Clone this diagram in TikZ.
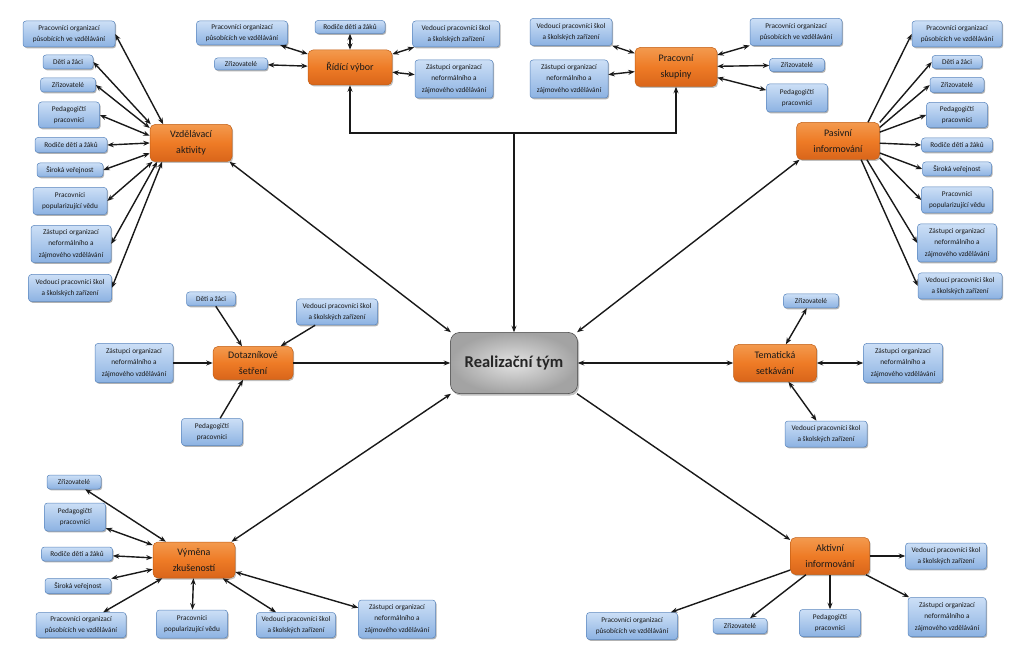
\documentclass[tikz,border=0pt]{standalone}
\usepackage{fontspec}
\setmainfont{Carlito}
\usetikzlibrary{arrows.meta,shadows,calc}
\definecolor{bTop}{HTML}{CCDFF6}
\definecolor{bBot}{HTML}{8CB2E2}
\definecolor{bEdge}{HTML}{5A86BE}
\definecolor{oTop}{HTML}{F39A4E}
\definecolor{oMid}{HTML}{EE7B26}
\definecolor{oBot}{HTML}{D9651A}
\definecolor{oEdge}{HTML}{C25E14}
\newcommand\tPO{Pracovníci organizací\\působících ve vzdělávání}
\newcommand\tDZ{Děti a žáci}
\newcommand\tZR{Zřizovatelé}
\newcommand\tPP{Pedagogičtí\\pracovníci}
\newcommand\tRD{Rodiče dětí a žáků}
\newcommand\tSV{Široká veřejnost}
\newcommand\tPV{Pracovníci\\popularizující vědu}
\newcommand\tZO{Zástupci organizací\\neformálního a\\zájmového vzdělávání}
\newcommand\tVP{Vedoucí pracovníci škol\\a školských zařízení}
\begin{document}
\begin{tikzpicture}[x=1pt,y=-1pt,
  sz/.style 2 args={minimum width=#1pt, minimum height=#2pt},
  bl/.style={draw=bEdge, line width=0.5pt, rounded corners=3pt, top color=bTop, bottom color=bBot,
    inner sep=0.5pt, align=center, font=\fontsize{7.3}{11.5}\selectfont, text=black!90,
    drop shadow={shadow xshift=1.1pt, shadow yshift=-1.3pt, opacity=0.6}},
  og/.style={draw=oEdge, line width=0.5pt, rounded corners=5pt, top color=oTop, bottom color=oBot, middle color=oMid,
    inner sep=1pt, align=center, font=\fontsize{10}{15.5}\selectfont, text=black!90,
    drop shadow={shadow xshift=1.2pt, shadow yshift=-1.5pt, opacity=0.5}},
  ct/.style={draw=gray!55!black, line width=0.5pt, rounded corners=9pt, inner color=gray!22, outer color=gray!72,
    align=center, font=\fontsize{16.5}{19}\selectfont\bfseries, text=black!85,
    drop shadow={shadow xshift=1.5pt, shadow yshift=-2pt, opacity=0.5}},
  ar/.style={line width=1.4pt, draw=black!90},
  bi/.style={ar, {Stealth[length=6.5pt,width=5pt]}-{Stealth[length=6.5pt,width=5pt]}},
  fw/.style={ar, -{Stealth[length=6.5pt,width=5pt]}}
]
\useasboundingbox (0,0) rectangle (1023,668);
\fill[white] (0,0) rectangle (1023,668);

% orange and centre nodes
\node[ct, sz={127}{61}] (rt) at (514,363) {Realizační tým};
\node[og, sz={82}{37}] (va) at (191,143) {Vzdělávací\\aktivity};
\node[og, sz={84}{35}] (rv) at (350,67.5) {Řídící výbor};
\node[og, sz={82}{39}] (ps) at (676,67) {Pracovní\\skupiny};
\node[og, sz={83}{37}] (pi) at (838,141) {Pasivní\\informování};
\node[og, sz={80}{33}] (ds) at (253,363) {Dotazníkové\\šetření};
\node[og, sz={83}{37}] (ts) at (775,363) {Tematická\\setkávání};
\node[og, sz={82}{36}] (vz) at (194,560) {Výměna\\zkušeností};
\node[og, sz={79}{37}] (ai) at (830,556) {Aktivní\\informování};

% Vzdělávací aktivity
\node[bl, sz={92}{26}] (va1) at (69,34) {\tPO};
\node[bl, sz={50}{14}] (va2) at (68,62) {\tDZ};
\node[bl, sz={55}{14}] (va3) at (68,85) {\tZR};
\node[bl, sz={61}{26}] (va4) at (69,115) {\tPP};
\node[bl, sz={72}{15}] (va5) at (71,145) {\tRD};
\node[bl, sz={66}{14}] (va6) at (70,170) {\tSV};
\node[bl, sz={74}{27}] (va7) at (70,201) {\tPV};
\node[bl, sz={80}{37}] (va8) at (71,244) {\tZO};
\node[bl, sz={83}{27}] (va9) at (70,288) {\tVP};

% Řídící výbor
\node[bl, sz={91}{24}] (rv1) at (242,33) {\tPO};
\node[bl, sz={70}{13}] (rv2) at (350,27) {\tRD};
\node[bl, sz={87}{26}] (rv3) at (456,34) {\tVP};
\node[bl, sz={53}{12}] (rv4) at (241,64) {\tZR};
\node[bl, sz={78}{38}] (rv5) at (454,79) {\tZO};

% Pracovní skupiny
\node[bl, sz={82}{27}] (ps1) at (571,32) {\tVP};
\node[bl, sz={78}{38}] (ps2) at (569,79) {\tZO};
\node[bl, sz={92}{27}] (ps3) at (796,32) {\tPO};
\node[bl, sz={55}{13}] (ps4) at (797,65) {\tZR};
\node[bl, sz={61}{28}] (ps5) at (797,98) {\tPP};

% Pasivní informování
\node[bl, sz={90}{26}] (pi1) at (957,34) {\tPO};
\node[bl, sz={50}{13}] (pi2) at (957,62) {\tDZ};
\node[bl, sz={54}{15}] (pi3) at (957,85) {\tZR};
\node[bl, sz={61}{25}] (pi4) at (957,115) {\tPP};
\node[bl, sz={71}{14}] (pi5) at (957,145) {\tRD};
\node[bl, sz={69}{14}] (pi6) at (957,169) {\tSV};
\node[bl, sz={71}{26}] (pi7) at (957,200) {\tPV};
\node[bl, sz={79}{38}] (pi8) at (957,243) {\tZO};
\node[bl, sz={84}{26}] (pi9) at (960,286) {\tVP};

% Dotazníkové šetření
\node[bl, sz={49}{14}] (ds1) at (211,299) {\tDZ};
\node[bl, sz={81}{26}] (ds2) at (337,312) {\tVP};
\node[bl, sz={78}{39}] (ds3) at (134,363) {\tZO};
\node[bl, sz={61}{27}] (ds4) at (212,432) {\tPP};

% Tematická setkávání
\node[bl, sz={55}{14}] (ts1) at (811,301) {\tZR};
\node[bl, sz={79}{39}] (ts2) at (903,363) {\tZO};
\node[bl, sz={82}{26}] (ts3) at (826,434) {\tVP};

% Výměna zkušeností
\node[bl, sz={54}{14}] (vz1) at (74,482) {\tZR};
\node[bl, sz={61}{28}] (vz2) at (75,517) {\tPP};
\node[bl, sz={71}{14}] (vz3) at (77,554) {\tRD};
\node[bl, sz={66}{15}] (vz4) at (78,586) {\tSV};
\node[bl, sz={90}{25}] (vz5) at (81,625) {\tPO};
\node[bl, sz={71}{28}] (vz6) at (192,624) {\tPV};
\node[bl, sz={79}{25}] (vz7) at (296,625) {\tVP};
\node[bl, sz={77}{38}] (vz8) at (397,619) {\tZO};

% Aktivní informování
\node[bl, sz={81}{26}] (ai1) at (946,556) {\tVP};
\node[bl, sz={78}{39}] (ai2) at (947,617) {\tZO};
\node[bl, sz={61}{27}] (ai3) at (830,623) {\tPP};
\node[bl, sz={54}{15}] (ai4) at (740,626) {\tZR};
\node[bl, sz={91}{27}] (ai5) at (632,626) {\tPO};

% centre connections
\coordinate (j) at (rt.north |- 0,133);
\draw[fw] (j) -- (rt.north);
\draw[fw] (j) -| (rv.south);
\draw[fw] (j) -| (ps.south);
\draw[bi] (rt.154) -- (va.-26);
\draw[bi] (rt.26) -- (pi.206);
\draw[bi] (rt.206) -- (vz.26);
\draw[fw] (rt.-26) -- (ai.158);
\draw[bi] (rt.east) -- (ts.west);
\draw[fw] (ds.east) -- (rt.west);

% satellites
\foreach \i/\a in {1/146,2/155,3/160,4/170,5/180,6/194,7/206,8/209,9/213}
  {\draw[bi] (va.\a) -- (va\i.east);}
\foreach \i in {1,...,5} {\draw[bi] (rv) -- (rv\i);}
\foreach \i in {1,...,5} {\draw[bi] (ps) -- (ps\i);}
\foreach \i/\a in {1/32,2/24,3/18,4/12,5/-3,6/-16,7/-22,8/-33,9/-39}
  {\draw[fw] (pi.\a) -- (pi\i.west);}
\foreach \i in {1,...,4} {\draw[fw] (ds\i) -- (ds);}
\foreach \i in {1,...,3} {\draw[bi] (ts) -- (ts\i);}
\foreach \i in {1,...,8} {\draw[bi] (vz) -- (vz\i);}
\foreach \i in {1,...,5} {\draw[fw] (ai) -- (ai\i);}
\end{tikzpicture}
\end{document}
